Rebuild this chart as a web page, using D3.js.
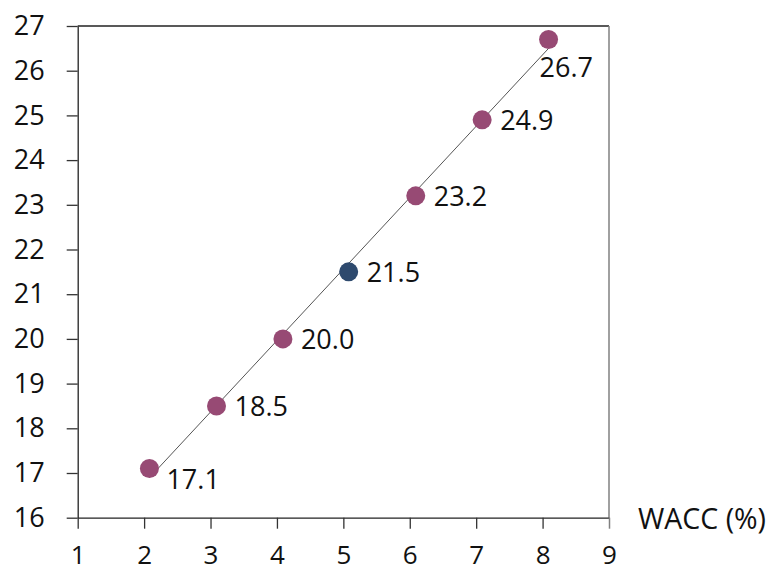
<!DOCTYPE html>
<html><head><meta charset="utf-8">
<script src="https://cdn.jsdelivr.net/npm/d3@7"></script>
<style>body{margin:0;background:#fff}svg{display:block}text{font-family:"Open Sans",sans-serif;fill:#111}</style>
</head><body>
<svg id="c" width="773" height="574"></svg>
<script>
const waccX = [2.08, 3.09, 4.09, 5.08, 6.09, 7.09, 8.09];
const values = [17.1, 18.5, 20.0, 21.5, 23.2, 24.9, 26.7];
const pointColors = ["#974a74","#974a74","#974a74","#2e4a6e","#974a74","#974a74","#974a74"];
const labelPos = ["belowright","right","right","right","right","right","below"];
const xTicks = [1,2,3,4,5,6,7,8,9];
const yTicks = [16,17,18,19,20,21,22,23,24,25,26,27];
const xTitle = "WACC (%)";

const svg = d3.select("#c");
const x = d3.scaleLinear().domain([1,9]).range([77.7,609]);
const y = d3.scaleLinear().domain([16,27]).range([517.7,26]);
const fs = 27;

// frame: top & right
svg.append("line").attr("x1",x(1)).attr("x2",x(9)).attr("y1",y(27)).attr("y2",y(27)).attr("stroke","#222").attr("stroke-width",1.3);
svg.append("line").attr("x1",x(9)).attr("x2",x(9)).attr("y1",y(27)).attr("y2",y(16)).attr("stroke","#808080").attr("stroke-width",1.5);

const ya = svg.append("g").attr("transform",`translate(${x(1)},0)`)
  .call(d3.axisLeft(y).tickValues(yTicks).tickSize(11).tickSizeOuter(0).tickPadding(22));
const xa = svg.append("g").attr("transform",`translate(0,${y(16)})`)
  .call(d3.axisBottom(x).tickValues(xTicks).tickSize(11).tickSizeOuter(0).tickPadding(17));
[ya,xa].forEach(g=>{
  g.select(".domain").attr("stroke","#222").attr("stroke-width",1.3);
  g.selectAll(".tick line").attr("stroke","#333").attr("stroke-width",1.3);
  g.selectAll("text").style("font-size",fs+"px").attr("fill","#111");
});
xa.selectAll("text").style("font-size","26px").attr("dy","0.71em");
xa.select(".tick:last-child line").attr("stroke","#808080").attr("stroke-width",1.5);

svg.append("text").attr("x",638).attr("y",529).style("font-size","28.5px").text(xTitle);

// linear trendline from data
const mx = d3.mean(waccX), my = d3.mean(values);
const slope = d3.sum(waccX,(v,i)=>(v-mx)*(values[i]-my))/d3.sum(waccX,v=>(v-mx)*(v-mx));
const icpt = my - slope*mx;
const x0 = d3.min(waccX), x1 = d3.max(waccX);
svg.append("line").attr("x1",x(x0)).attr("y1",y(icpt+slope*x0)).attr("x2",x(x1)).attr("y2",y(icpt+slope*x1))
  .attr("stroke","#555").attr("stroke-width",1);

svg.selectAll("circle.pt").data(values).join("circle").attr("class","pt")
  .attr("cx",(d,i)=>x(waccX[i])).attr("cy",d=>y(d)).attr("r",9.5)
  .attr("fill",(d,i)=>pointColors[i]);

svg.selectAll("text.lbl").data(values).join("text").attr("class","lbl")
  .style("font-size",fs+"px")
  .attr("x",(d,i)=>{const p=labelPos[i];return x(waccX[i]) + (p==="below"? -9 : p==="belowright"? 17 : 18);})
  .attr("y",(d,i)=>{const p=labelPos[i];return y(d) + (p==="below"? 38 : p==="belowright"? 20 : 10);})
  .text(d=>d.toFixed(1));
</script>
</body></html>
